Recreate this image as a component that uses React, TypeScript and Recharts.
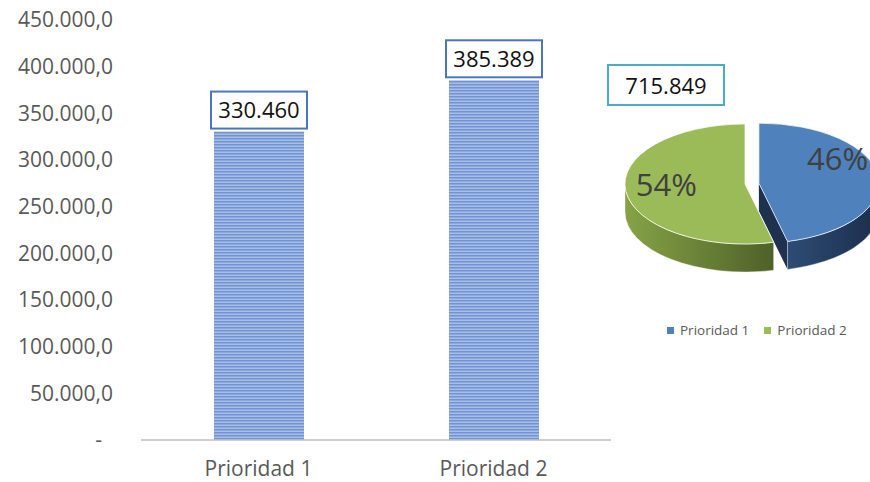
import { BarChart, Bar, XAxis, YAxis, PieChart, Pie, Cell } from 'recharts';

const categories = ['Prioridad 1', 'Prioridad 2'];
const amounts = [330460, 385389];
const yTicks = [0, 50000, 100000, 150000, 200000, 250000, 300000, 350000, 400000, 450000];

const sliceTop = ['#4F81BD', '#9BBB59'];
const sliceSide = ['url(#sideBlue)', 'url(#sideGreen)'];
const sliceFace = ['#1E3250', '#5E7530'];

const FONT = '"Open Sans", "Noto Sans", sans-serif';
const TEXT = '#595959';
const TILT = 0.5;
const DEPTH = 28;
const EXPLODE = [14, 0];
const LABEL_DY = [-19, -4];
const RAD = Math.PI / 180;

const data = categories.map((name, i) => ({ name, value: amounts[i] }));
const total = amounts.reduce((a, b) => a + b, 0);

// 385389 -> "385.389"
const fmt = (n: number) => Math.round(n).toString().replace(/\B(?=(\d{3})+(?!\d))/g, '.');
const yFmt = (v: number) => (v === 0 ? '-\u00A0\u00A0' : fmt(v) + ',0');

const BoxLabel = (props: any) => {
  const { x, y, width, value } = props;
  return (
    <g>
      <rect x={x - 3} y={y - 40} width={width + 6} height={37} fill="#fff" stroke="#4A76C0" strokeWidth={2} />
      <text x={x + width / 2} y={y - 21.5} dy="0.355em" textAnchor="middle" fontSize={22} fontFamily={FONT} fill="#111">
        {fmt(value)}
      </text>
    </g>
  );
};

// draws one pie slice as a tilted 3D wedge, using the angles recharts computed
const Slice3D = (props: any) => {
  const { cx, cy, outerRadius: r, startAngle, endAngle, midAngle, percent, index } = props;
  const ry = r * TILT;
  const x0 = cx + EXPLODE[index] * Math.cos(midAngle * RAD);
  const y0 = cy - EXPLODE[index] * TILT * Math.sin(midAngle * RAD);
  const pt = (a: number, d = 0) => `${x0 + r * Math.cos(a * RAD)},${y0 - ry * Math.sin(a * RAD) + d}`;
  const hi = Math.max(startAngle, endAngle);
  const lo = Math.min(startAngle, endAngle);
  const large = hi - lo > 180 ? 1 : 0;

  const top = `M${x0},${y0} L${pt(hi)} A${r},${ry} 0 ${large} 1 ${pt(lo)} Z`;
  const wHi = Math.min(hi, 0);
  const wLo = Math.max(lo, -180);
  const wall = wHi > wLo
    ? `M${pt(wHi)} A${r},${ry} 0 0 1 ${pt(wLo)} L${pt(wLo, DEPTH)} A${r},${ry} 0 0 0 ${pt(wHi, DEPTH)} Z`
    : null;
  const faces: string[] = [];
  if (Math.sin((lo - 90) * RAD) < -0.01) faces.push(`M${x0},${y0} L${pt(lo)} L${pt(lo, DEPTH)} L${x0},${y0 + DEPTH} Z`);
  if (Math.sin((hi + 90) * RAD) < -0.01) faces.push(`M${x0},${y0} L${pt(hi)} L${pt(hi, DEPTH)} L${x0},${y0 + DEPTH} Z`);

  const lx = x0 + 0.66 * r * Math.cos(midAngle * RAD);
  const ly = y0 - 0.66 * ry * Math.sin(midAngle * RAD) + LABEL_DY[index];

  return (
    <g>
      {index === 0 && (
        <defs>
          <linearGradient id="sideBlue" x1="0" y1="0" x2="1" y2="0">
            <stop offset="0%" stopColor="#2D4C74" />
            <stop offset="100%" stopColor="#1B2E4B" />
          </linearGradient>
          <linearGradient id="sideGreen" x1="0" y1="0" x2="1" y2="0">
            <stop offset="0%" stopColor="#86A347" />
            <stop offset="100%" stopColor="#4E6128" />
          </linearGradient>
        </defs>
      )}
      {faces.map((d, i) => <path key={i} d={d} fill={sliceFace[index]} />)}
      {wall && <path d={wall} fill={sliceSide[index]} stroke="#fff" strokeOpacity={0.5} strokeWidth={0.8} />}
      <path d={top} fill={sliceTop[index]} stroke="#fff" strokeOpacity={0.7} strokeWidth={1} />
      <text x={lx} y={ly} dy="0.355em" textAnchor="middle" fontSize={31} fontFamily={FONT} fill="#404040">
        {`${Math.round(percent * 100)}%`}
      </text>
    </g>
  );
};

export default function App() {
  return (
    <div style={{ position: 'absolute', left: 0, top: 0, width: 870, height: 482, background: '#fff', overflow: 'hidden', fontFamily: FONT }}>
      <BarChart width={870} height={482} data={data} margin={{ top: 20, right: 259, left: 0, bottom: 12 }}>
        <defs>
          <pattern id="barStripes" patternUnits="userSpaceOnUse" width={6} height={3}>
            <rect x={0} y={0} width={6} height={3} fill="#A7BEE8" />
            <rect x={0} y={0} width={6} height={1.5} fill="#7193D2" />
          </pattern>
        </defs>
        <XAxis
          dataKey="name"
          height={30}
          axisLine={{ stroke: '#BFBFBF', strokeWidth: 1.5 }}
          tickLine={false}
          tickMargin={15}
          tick={{ fill: TEXT, fontSize: 21, fontFamily: FONT }}
        />
        <YAxis
          width={141}
          domain={[0, 450000]}
          ticks={yTicks}
          interval={0}
          tickFormatter={yFmt}
          axisLine={false}
          tickLine={false}
          tickMargin={22}
          tick={{ fill: TEXT, fontSize: 21, fontFamily: FONT }}
        />
        <Bar dataKey="value" barSize={90} fill="url(#barStripes)" isAnimationActive={false} label={BoxLabel} />
      </BarChart>

      <div style={{ position: 'absolute', left: 600, top: 0 }}>
        <PieChart width={270} height={300} margin={{ top: 0, right: 0, bottom: 0, left: 0 }}>
          <Pie
            data={data}
            dataKey="value"
            nameKey="name"
            cx={145}
            cy={184}
            outerRadius={120}
            startAngle={90}
            endAngle={-270}
            stroke="none"
            fill="transparent"
            label={Slice3D}
            labelLine={false}
            isAnimationActive={false}
          >
            {data.map((_, i) => <Cell key={i} fill="transparent" />)}
          </Pie>
        </PieChart>
      </div>

      <div
        style={{
          position: 'absolute', left: 607, top: 64, width: 118, height: 42, boxSizing: 'border-box',
          border: '2px solid #4BACC6', background: '#fff', display: 'flex', alignItems: 'center',
          justifyContent: 'center', fontSize: 22, color: '#111',
        }}
      >
        {fmt(total)}
      </div>

      <div style={{ position: 'absolute', left: 667, top: 321, display: 'flex', alignItems: 'center', fontSize: 13.5, color: TEXT }}>
        {categories.map((c, i) => (
          <span key={c} style={{ display: 'flex', alignItems: 'center', marginRight: 15 }}>
            <span style={{ width: 7, height: 7, background: sliceTop[i], marginRight: 6, display: 'inline-block' }} />
            {c}
          </span>
        ))}
      </div>
    </div>
  );
}
